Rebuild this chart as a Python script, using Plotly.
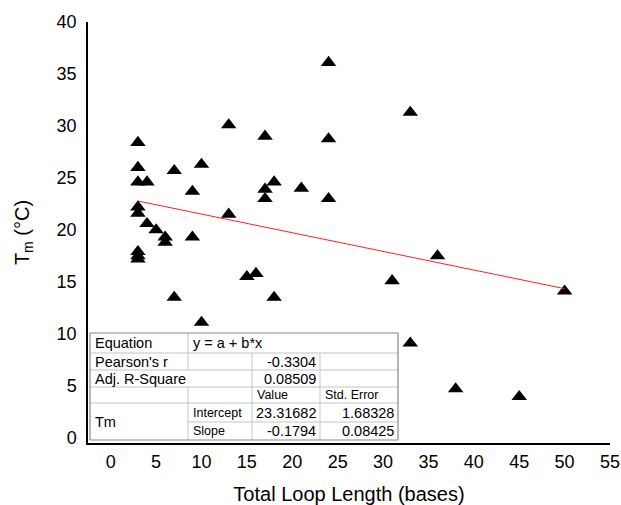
import plotly.graph_objects as go

# ---------------- data ----------------
loop_length = [3, 3, 3, 3, 3, 3, 3, 3,
               4, 4, 5, 6, 6, 7, 7, 9, 9, 10, 10,
               13, 13, 15, 16, 17, 17, 17, 18, 18, 21,
               24, 24, 24, 31, 33, 33, 36, 38, 45, 50]
tm_values = [28.4, 26.0, 24.6, 22.2, 21.6, 17.9, 17.5, 17.2,
             24.6, 20.6, 20.0, 19.3, 18.8, 25.7, 13.5, 23.7, 19.3, 26.3, 11.1,
             30.1, 21.5, 15.5, 15.8, 29.0, 23.9, 23.0, 24.6, 13.5, 24.0,
             36.1, 28.75, 23.0, 15.1, 31.3, 9.1, 17.5, 4.7, 3.95, 14.1]

fit_intercept = 23.31682
fit_slope = -0.1794
fit_x = [3, 50]
fit_y = [fit_intercept + fit_slope * v for v in fit_x]

x_ticks = [0, 5, 10, 15, 20, 25, 30, 35, 40, 45, 50, 55]
y_ticks = [0, 5, 10, 15, 20, 25, 30, 35, 40]

# fit-report table text
tbl_equation = ["Equation", "y = a + b*x"]
tbl_pearson = ["Pearson's r", "-0.3304"]
tbl_adjr2 = ["Adj. R-Square", "0.08509"]
tbl_header = ["Value", "Std. Error"]
tbl_group = "Tm"
tbl_intercept = ["Intercept", "23.31682", "1.68328"]
tbl_slope = ["Slope", "-0.1794", "0.08425"]

# ---------------- figure ----------------
OFF = 0  # body margin removed by post_script below
W, H = 621 - OFF, 505 - OFF
L, R, T, B = 88 - OFF, 11, 22 - OFF, 62
PW, PH = W - L - R, H - T - B

def px(x):  # page pixel -> paper
    return (x - OFF - L) / PW

def py(y):
    return (H - B - (y - OFF)) / PH

FONT = "Liberation Sans, Arial, sans-serif"

fig = go.Figure()
fig.add_trace(go.Scatter(x=loop_length, y=tm_values, mode="markers",
                         marker=dict(symbol="triangle-up", size=13.5, color="black"),
                         showlegend=False, cliponaxis=False))
fig.add_trace(go.Scatter(x=fit_x, y=fit_y, mode="lines",
                         line=dict(color="#ff2020", width=1),
                         showlegend=False))

shapes = []
annotations = []

# table geometry (page pixels)
cx = [90, 188, 252, 320, 398]
ry = [333, 353, 370, 387, 403, 422, 440]
inner = "#c4c4c4"
outer = "#8a8a8a"

def hline(x0, x1, y, color=inner, w=1):
    shapes.append(dict(type="line", xref="paper", yref="paper",
                       x0=px(x0), x1=px(x1), y0=py(y), y1=py(y),
                       line=dict(color=color, width=w)))

def vline(x, y0, y1, color=inner, w=1):
    shapes.append(dict(type="line", xref="paper", yref="paper",
                       x0=px(x), x1=px(x), y0=py(y0), y1=py(y1),
                       line=dict(color=color, width=w)))

shapes.append(dict(type="rect", xref="paper", yref="paper",
                   x0=px(cx[0]), x1=px(cx[4]), y0=py(ry[6]), y1=py(ry[0]),
                   fillcolor="white", line=dict(width=0), layer="above"))
hline(cx[0], cx[4], ry[1])
hline(cx[0], cx[4], ry[2])
hline(cx[0], cx[4], ry[3])
hline(cx[0], cx[4], ry[4])
hline(cx[1], cx[4], ry[5])
vline(cx[1], ry[0], ry[2])
vline(cx[1], ry[3], ry[6])
vline(cx[2], ry[1], ry[6])
vline(cx[3], ry[1], ry[6])
shapes.append(dict(type="rect", xref="paper", yref="paper",
                   x0=px(cx[0]), x1=px(cx[4]), y0=py(ry[6]), y1=py(ry[0]),
                   fillcolor="rgba(0,0,0,0)", line=dict(color=outer, width=1.2)))

def txt(s, x, y, anchor="left", size=14):
    annotations.append(dict(text=s, xref="paper", yref="paper",
                            x=px(x), y=py(y), xanchor=anchor, yanchor="middle",
                            showarrow=False, font=dict(family=FONT, size=size, color="black")))

mid = lambda i: (ry[i] + ry[i + 1]) / 2
BIG, SMALL = 14.5, 12.5
txt(tbl_equation[0], 93, mid(0), size=BIG)
txt(tbl_equation[1], 191, mid(0), size=BIG)
txt(tbl_pearson[0], 93, mid(1), size=BIG)
txt(tbl_pearson[1], 318, mid(1), "right", BIG)
txt(tbl_adjr2[0], 93, mid(2), size=BIG)
txt(tbl_adjr2[1], 318, mid(2), "right", BIG)
txt(tbl_header[0], 255, mid(3), size=SMALL)
txt(tbl_header[1], 323, mid(3), size=SMALL)
txt(tbl_group, 93, (ry[4] + ry[6]) / 2, size=BIG)
txt(tbl_intercept[0], 191, mid(4), size=SMALL)
txt(tbl_intercept[1], 318, mid(4), "right", BIG)
txt(tbl_intercept[2], 396, mid(4), "right", BIG)
txt(tbl_slope[0], 191, mid(5), size=SMALL)
txt(tbl_slope[1], 318, mid(5), "right", BIG)
txt(tbl_slope[2], 396, mid(5), "right", BIG)

fig.update_layout(
    width=W, height=H,
    margin=dict(l=L, r=R, t=T, b=B, pad=0),
    plot_bgcolor="white", paper_bgcolor="white",
    font=dict(family=FONT, color="black"),
    shapes=shapes, annotations=annotations,
    xaxis=dict(range=[-2.5, 55], tickvals=x_ticks, showgrid=False, zeroline=False,
               showline=True, linecolor="black", linewidth=2, ticks="",
               automargin=False, ticklabeloverflow="allow",
               ticklabelstandoff=1, tickfont=dict(size=18),
               title=dict(text="Total Loop Length (bases)", font=dict(size=20), standoff=19)),
    yaxis=dict(range=[-0.5, 40], tickvals=y_ticks, showgrid=False, zeroline=False,
               showline=True, linecolor="black", linewidth=1.5, ticks="",
               automargin=False, ticklabeloverflow="allow",
               ticklabelstandoff=6, tickfont=dict(size=18),
               title=dict(text="T<sub>m</sub> (°C)", font=dict(size=20), standoff=22)),
)

fig.write_html("out.html", config={"displayModeBar": False},
               post_script="document.body.style.margin='0';document.body.style.overflow='hidden';")
